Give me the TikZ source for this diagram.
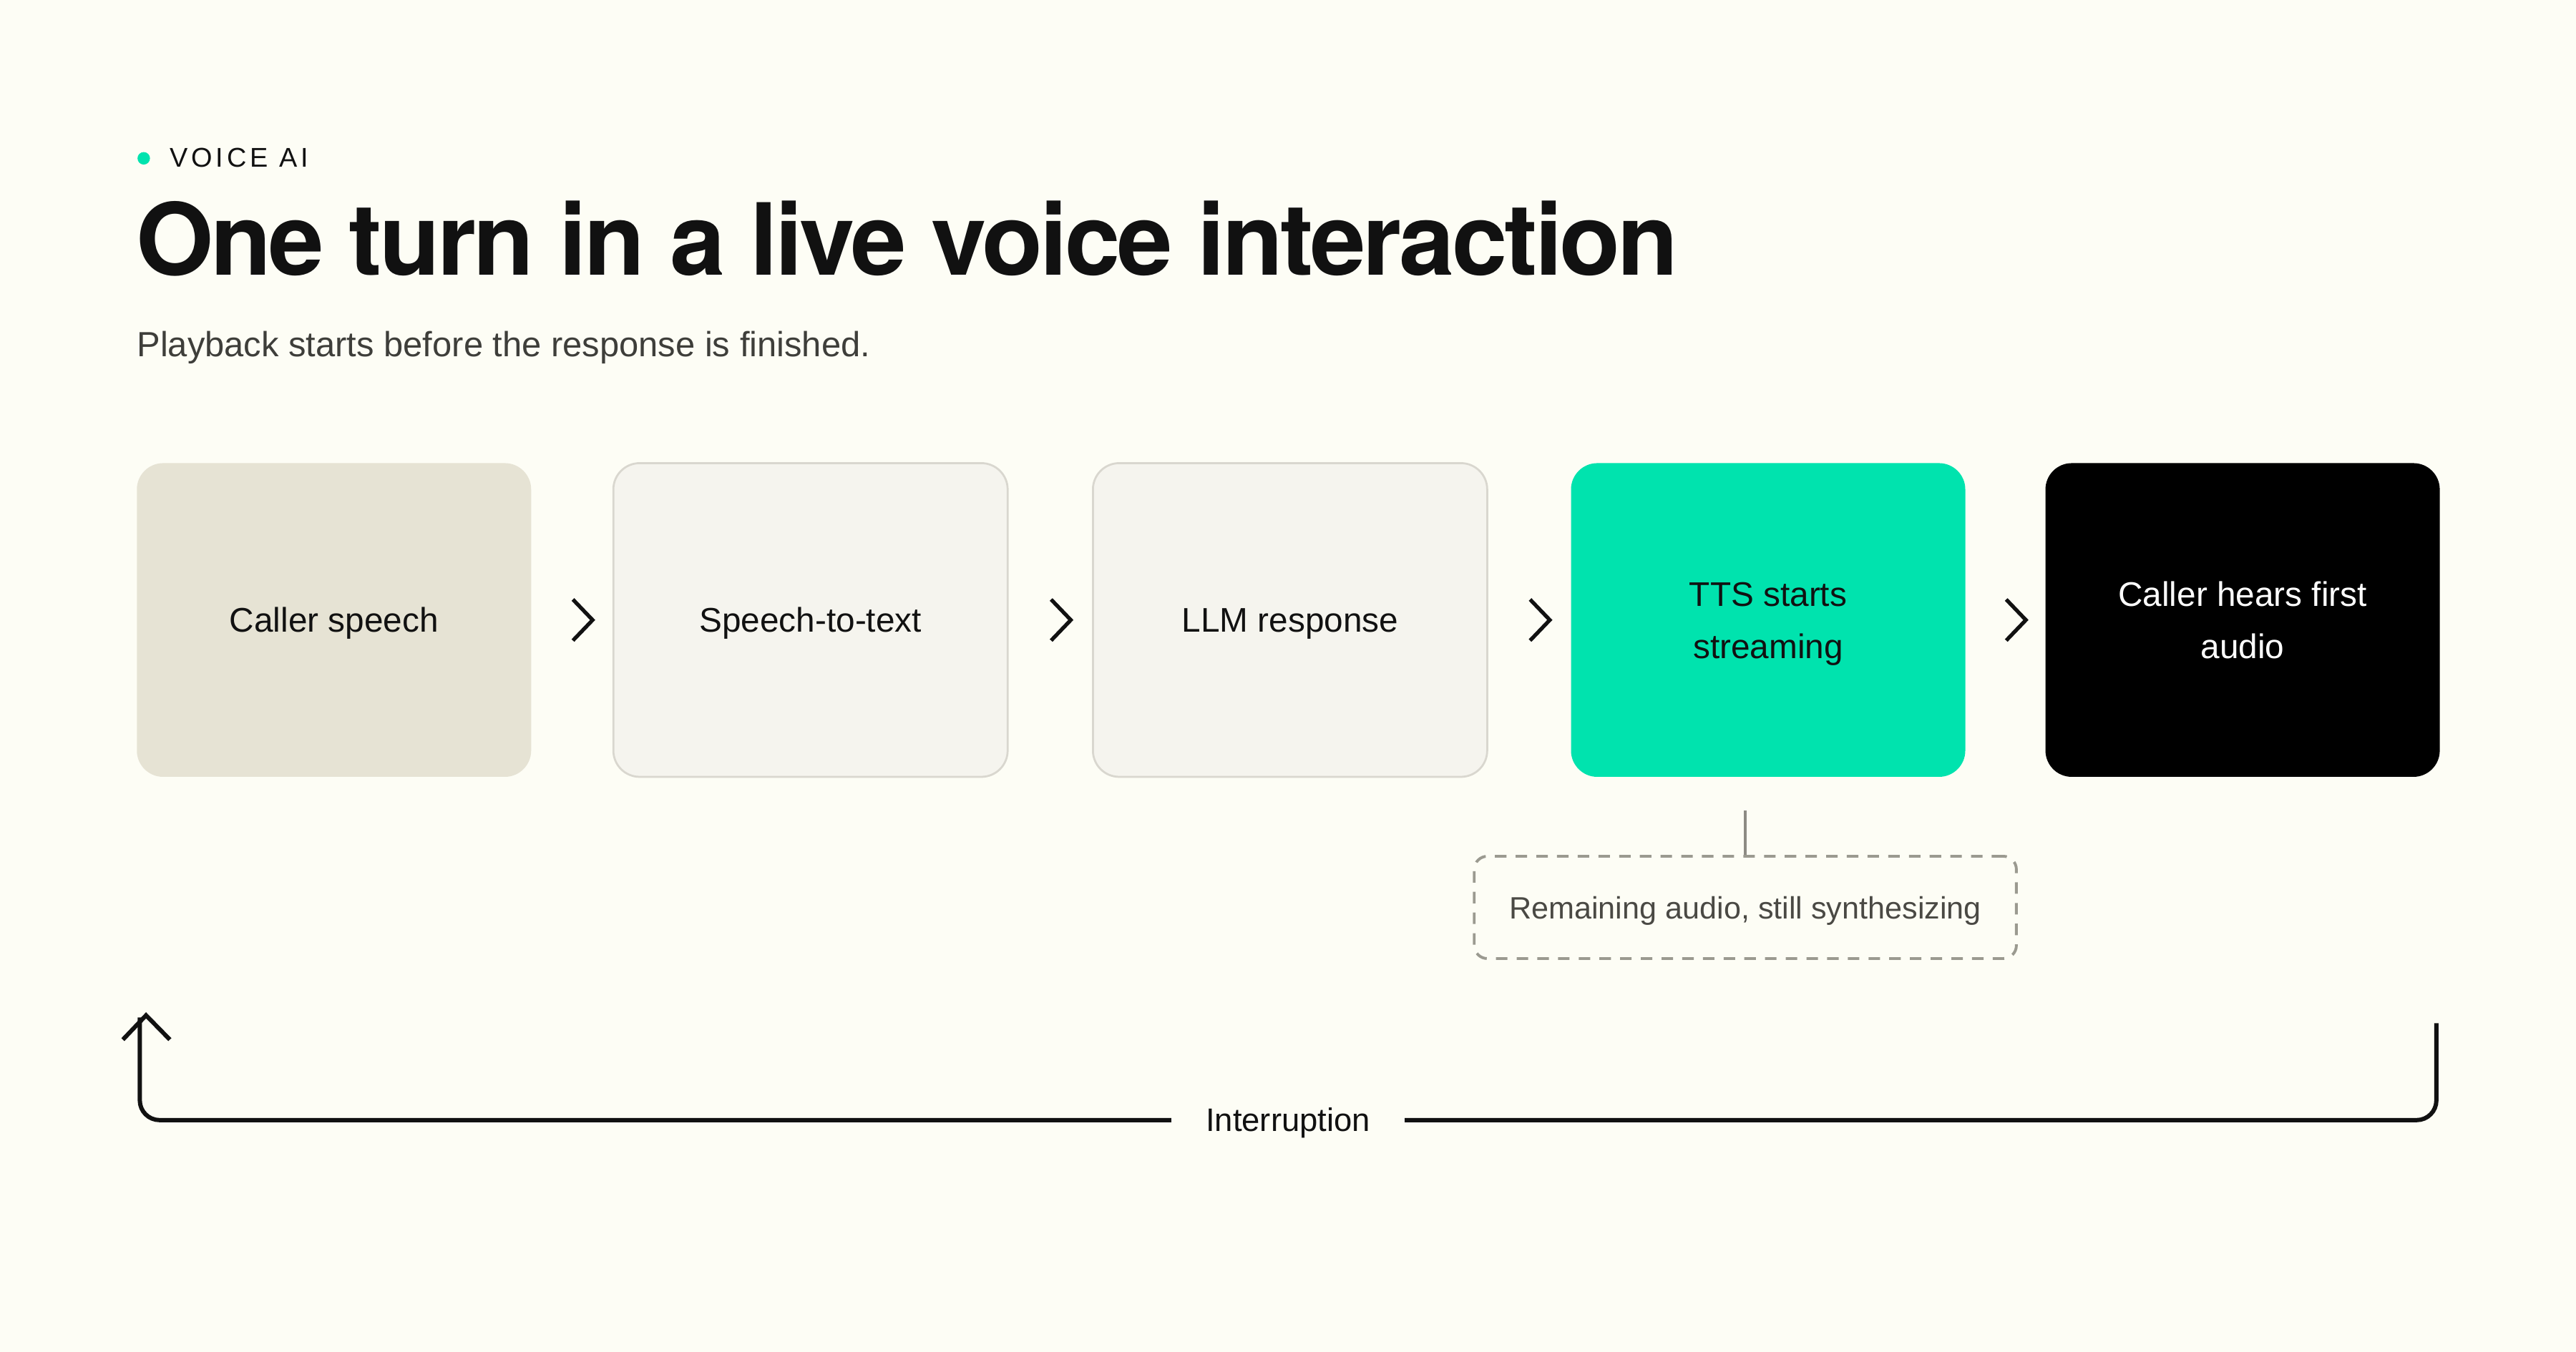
\documentclass[tikz,border=0pt]{standalone}
\usepackage{fontspec}
\setmainfont{Liberation Sans}
\newfontfamily\titlefont[LetterSpace=-2.8]{TeX Gyre Heros}
\newfontfamily\kickerfont[LetterSpace=13]{Liberation Sans}
\usetikzlibrary{arrows.meta,calc}
\definecolor{bg}{HTML}{FDFDF5}
\definecolor{ink}{HTML}{111111}
\definecolor{beige}{HTML}{E6E3D4}
\definecolor{paper}{HTML}{F5F4EE}
\definecolor{rim}{HTML}{D9D7CF}
\definecolor{mint}{HTML}{00E3AE}
\definecolor{subgrey}{HTML}{3E3E3A}
\definecolor{notegrey}{HTML}{4A4944}
\definecolor{dashgrey}{HTML}{9B9A90}
\definecolor{tapgrey}{HTML}{8D8B84}
\tikzset{
  stage/.style={rounded corners=8pt, minimum width=120pt, minimum height=95.5pt,
    inner sep=0pt, align=center, font=\fontsize{10.4}{15.75}\selectfont,
    text=ink, text height=7.5pt, text depth=0pt},
  twoline/.style={text height=23.25pt, text depth=0pt},
  chev/.style={draw=ink, line width=1.15pt},
  note/.style={draw=dashgrey, line width=0.85pt, dash pattern=on 3.5pt off 2.8pt,
    rounded corners=4pt, minimum width=165pt, minimum height=31.15pt, inner sep=0pt,
    font=\fontsize{9.4}{12}\selectfont, text=notegrey, text height=6.9pt, text depth=0pt},
  tapline/.style={draw=tapgrey, line width=0.8pt},
  loopline/.style={draw=ink, line width=1.3pt, rounded corners=6pt},
  looptip/.style={draw=ink, line width=1.3pt, line join=miter},
  looplabel/.style={fill=bg, inner xsep=10.5pt, inner ysep=2pt, text=ink,
    text height=6.9pt, text depth=0pt, font=\fontsize{9.9}{12}\selectfont}
}
\begin{document}
\begin{tikzpicture}[x=0.5pt,y=-0.5pt]
\fill[bg] (0,0) rectangle (1568,823.2);
\useasboundingbox (0,0) rectangle (1568,823.2);

% header
\node[circle, fill=mint, minimum size=3.8pt, inner sep=0pt] (dot) at (87.5,96.4) {};
\node[anchor=base west, inner sep=0pt, text=ink, font=\kickerfont\fontsize{8.25}{10}\selectfont] (kicker) at (103,101.5) {VOICE AI};
\node[anchor=base west, inner sep=0pt, text=ink, font=\titlefont\bfseries\fontsize{30.3}{36}\selectfont] (title) at (82.5,167.5) {One turn in a live voice interaction};
\node[anchor=base west, inner sep=0pt, text=subgrey, font=\fontsize{10.65}{13}\selectfont] (subtitle) at (83,217) {Playback starts before the response is finished.};

% stages
\node[stage, fill=beige] (s1) at (203.3,377.5) {Caller speech};
\node[stage, fill=paper, draw=rim, line width=0.6pt] (s2) at (493.35,377.5) {Speech-to-text};
\node[stage, fill=paper, draw=rim, line width=0.6pt] (s3) at (785.25,377.5) {LLM response};
\node[stage, twoline, fill=mint] (s4) at (1076.25,377.5) {TTS starts\\streaming};
\node[stage, twoline, fill=black, text=white] (s5) at (1365.05,377.5) {Caller hears first\\audio};

% chevrons
\foreach \a/\b/\g in {s1/s2/g1, s2/s3/g2, s3/s4/g3, s4/s5/g4}{
  \coordinate (\g) at ($(\a.east)!0.5!(\b.west)$);
  \draw[chev] ($(\g)+(0.5,-12.5)$) -- ($(\g)+(12.5,0)$) -- ($(\g)+(0.5,12.5)$);
}

% note
\node[note] (note) at (1062.35,552.5) {Remaining audio, still synthesizing};
\coordinate (tap) at ($(note.north)+(0,-27.2)$);
\draw[tapline] (note.north) -- (tap);

% interruption loop
\coordinate (intR) at (1483,623);
\coordinate (intL) at (85.1,619.5);
\coordinate (base) at (0,682);
\coordinate (tip) at (88.9,618.2);
\draw[loopline] (intR) -- (intR |- base) -- (intL |- base) -- (intL);
\draw[looptip] ($(tip)+(-14.1,14.8)$) -- (tip) -- ($(tip)+(14.5,14.8)$);
\node[looplabel] (intlab) at ($(intR |- base)!0.5!(intL |- base)$) {Interruption};
\end{tikzpicture}
\end{document}
